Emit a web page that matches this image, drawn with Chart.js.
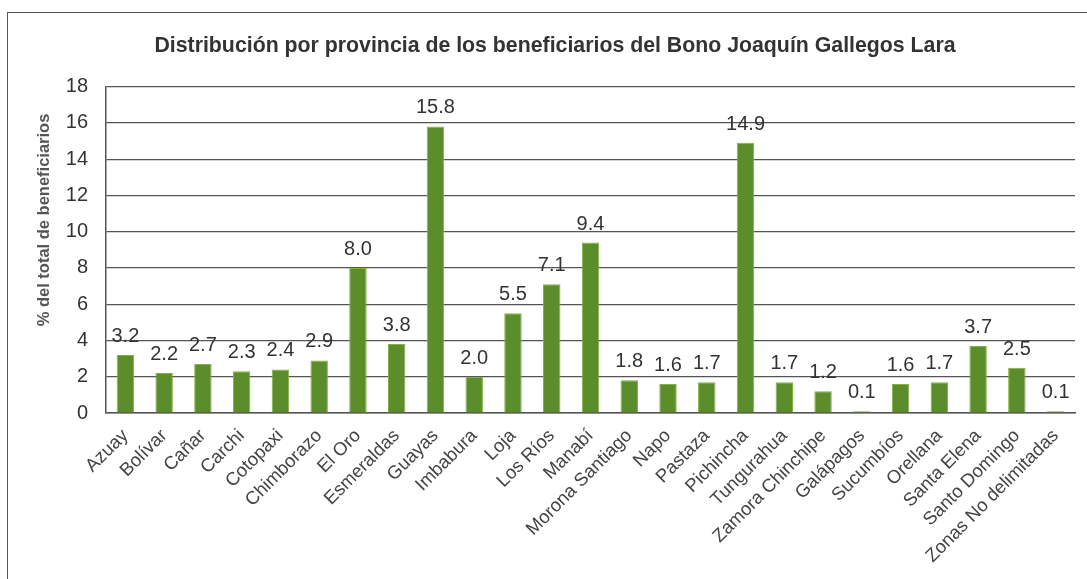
<!DOCTYPE html>
<html>
<head>
<meta charset="utf-8">
<script src="https://cdn.jsdelivr.net/npm/chart.js"></script>
<style>
  html, body { margin: 0; padding: 0; background: #fff; overflow: hidden; }
  #wrap { position: relative; width: 1087px; height: 579px; overflow: hidden; }
  #frame { position: absolute; left: 7px; top: 12px; width: 1200px; height: 600px;
           border: 1.5px solid #555; box-sizing: border-box; }
  canvas { position: absolute; left: 0; top: 0; }
</style>
</head>
<body>
<div id="wrap">
  <div id="frame"></div>
  <canvas id="c" width="1087" height="579"></canvas>
</div>
<script>
// provinces and share of beneficiaries (%)
const provincias = ['Azuay', 'Bolívar', 'Cañar', 'Carchi', 'Cotopaxi', 'Chimborazo', 'El Oro',
  'Esmeraldas', 'Guayas', 'Imbabura', 'Loja', 'Los Ríos', 'Manabí', 'Morona Santiago', 'Napo',
  'Pastaza', 'Pichincha', 'Tungurahua', 'Zamora Chinchipe', 'Galápagos', 'Sucumbíos', 'Orellana',
  'Santa Elena', 'Santo Domingo', 'Zonas No delimitadas'];
const porcentajes = [3.2, 2.2, 2.7, 2.3, 2.4, 2.9, 8.0, 3.8, 15.8, 2.0, 5.5, 7.1, 9.4, 1.8, 1.6,
  1.7, 14.9, 1.7, 1.2, 0.1, 1.6, 1.7, 3.7, 2.5, 0.1];
const yTicks = [0, 2, 4, 6, 8, 10, 12, 14, 16, 18];

const FONT = '"Liberation Sans", Arial, sans-serif';

/* value labels above each bar */
const valueLabels = {
  id: 'valueLabels',
  afterDatasetsDraw(ch) {
    const { ctx } = ch;
    const meta = ch.getDatasetMeta(0);
    ctx.save();
    ctx.font = '20px ' + FONT;
    ctx.fillStyle = '#333';
    ctx.textAlign = 'center';
    ctx.textBaseline = 'alphabetic';
    meta.data.forEach((bar, i) => {
      ctx.fillText(porcentajes[i].toFixed(1), bar.x, bar.y - 13);
    });
    ctx.restore();
  }
};

new Chart(document.getElementById('c'), {
  type: 'bar',
  data: {
    labels: provincias,
    datasets: [{
      data: porcentajes,
      backgroundColor: '#5b8d2b',
      borderColor: '#86b040',
      borderWidth: 1,
      barPercentage: 0.45,
      categoryPercentage: 1
    }]
  },
  options: {
    responsive: false,
    animation: false,
    layout: { padding: { top: 33, left: 35, right: 12, bottom: 0 } },
    plugins: {
      legend: { display: false },
      tooltip: { enabled: false },
      title: {
        display: true,
        text: 'Distribución por provincia de los beneficiarios del Bono Joaquín Gallegos Lara',
        color: '#333',
        font: { family: FONT, size: 21.3, weight: 'bold' },
        padding: { top: 0, bottom: 28 }
      }
    },
    scales: {
      x: {
        grid: { display: false, drawTicks: false },
        border: { color: '#555', width: 1.5 },
        ticks: {
          color: '#444',
          font: { family: FONT, size: 18.5 },
          minRotation: 45,
          maxRotation: 45,
          autoSkip: false,
          padding: 12
        },
        afterFit(s) { s.height = 166; }
      },
      y: {
        min: 0,
        max: 18,
        afterBuildTicks(s) { s.ticks = yTicks.map(v => ({ value: v })); },
        grid: { color: '#555', lineWidth: 1.2, drawTicks: false },
        border: { color: '#555', width: 1.5 },
        ticks: {
          color: '#333',
          font: { family: FONT, size: 20 },
          padding: 18
        },
        title: {
          display: true,
          // leading spaces nudge the rotated title up, as in the original
          text: '\u00a0'.repeat(13) + '% del total de beneficiarios',
          color: '#555',
          font: { family: FONT, size: 16.5, weight: 'bold' },
          padding: 0
        },
        afterFit(s) { s.width = 71; }
      }
    }
  },
  plugins: [valueLabels]
});
</script>
</body>
</html>
